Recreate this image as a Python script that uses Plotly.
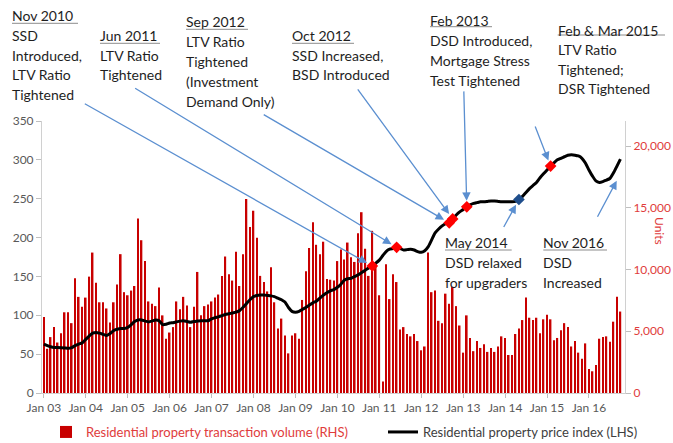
import pandas as pd
import plotly.graph_objects as go

# Monthly observations, Jan 2003 - Oct 2016
months = pd.date_range("2003-01-01", periods=166, freq="MS")

# Residential property transaction volume (units, right axis)
transactions = [
    6160, 3580, 4530, 5340, 4090, 4840, 6540, 6540, 5660, 9300, 7790, 6980,      # 2003
    7730, 9430, 11380, 8930, 7350, 7350, 6850, 5720, 7350, 8800, 11250, 8170,    # 2004
    7920, 8300, 8670, 14140, 12380, 10690, 7420, 7230, 7040, 8550, 6290, 4400,   # 2005
    4900, 5340, 7420, 6790, 7790, 7100, 5340, 6980, 9810, 6290, 7040, 7170,      # 2006
    7420, 7730, 7980, 9490, 11060, 9620, 9110, 11440, 8670, 11250, 15720, 13450, # 2007
    14770, 12570, 9490, 8990, 8230, 10180, 7350, 5220, 6030, 4650, 3210, 4650,   # 2008
    4840, 4400, 7540, 9870, 11750, 13830, 12010, 11250, 12260, 9240, 9180, 9110, # 2009
    10690, 11630, 10810, 12190, 11000, 10620, 12950, 14650, 11690, 9490, 13140, 10430,  # 2010
    7920, 940, 10430, 7610, 9620, 8990, 5150, 5340, 4780, 4590, 4780, 4210,      # 2011
    3460, 3770, 11380, 8170, 8300, 5850, 5660, 8050, 7230, 8610, 7040, 5470,     # 2012
    3270, 6290, 4460, 3390, 4210, 3650, 3960, 3330, 3650, 3330, 3770, 4590,      # 2013
    4460, 3080, 3080, 4780, 5220, 5910, 7730, 6100, 5910, 6100, 4840, 5970,      # 2014
    6350, 5970, 4270, 4460, 5090, 5660, 5340, 3770, 4210, 3270, 2770, 4020,      # 2015
    1950, 1760, 2260, 4400, 4530, 4590, 4150, 5780, 7790, 6600,                  # 2016
]

# Residential property price index (left axis)
price_index = [
    63, 61, 59.5, 58.5, 58.5, 58.3, 58, 57.5, 58.5, 61, 63, 64.5,
    69, 73.5, 77, 78, 77, 75.5, 74, 76.5, 80.5, 82, 83, 83,
    84.5, 88, 92, 94, 94, 92.5, 91.5, 92.5, 94, 93, 88, 88.5,
    90, 90.5, 91.5, 92.5, 93, 92, 91, 92, 92.5, 93, 93, 93,
    95.5, 97, 98, 99.5, 101, 102, 103, 104, 106, 110, 115, 120,
    124, 125.5, 126, 126, 125.5, 125, 124, 122, 120, 117, 110, 105,
    104, 105, 107.5, 110, 113, 116, 118, 122, 126, 129, 131.5, 133,
    136, 140, 145, 147, 147.5, 150, 152, 155, 158, 161, 163.5, 167,
    171, 177, 182, 185, 186, 187.5, 186, 184, 184.5, 185, 184, 182,
    181, 183, 188, 197, 206, 211, 215, 218, 219, 224, 229, 233,
    236, 239.5, 242, 244, 245, 246, 246, 246.5, 247, 247, 246.5, 246,
    246, 246, 246, 246.5, 249, 253, 258, 263, 267, 271, 277, 282,
    287, 292, 296, 300, 302, 304, 306, 306.5, 306, 305, 302, 296,
    287, 279, 273, 271, 272, 274, 276, 283, 292, 301,
]

tick_years = list(range(2003, 2017))
tick_vals = [f"{y}-01-01" for y in tick_years]
tick_text = [f"Jan {y % 100:02d}" for y in tick_years]

left_ticks = [0, 50, 100, 150, 200, 250, 300, 350]
right_ticks = [0, 5000, 10000, 15000, 20000]

# Policy measures marked on the price index
tightening_dates = ["2010-11-01", "2011-06-01", "2012-09-01", "2012-10-01", "2013-02-01", "2015-02-01"]
relaxing_dates = ["2014-05-01"]

W, H = 673, 443
ML, MR, MT, MB = 42, 48, 121, 50
PW, PH = W - ML - MR, H - MT - MB

FONT = "Lato"
TEXT = "#1e1e1e"
GRAY = "#595959"
RED_TXT = "#e03c3c"
BAR_RED = "#c80000"
ARROW = "#5b8fd0"


def px(x):
    return (x - ML) / PW


def py(y):
    return (H - MB - y) / PH


def value_at(date):
    return price_index[months.get_loc(pd.Timestamp(date))]


fig = go.Figure()

fig.add_trace(go.Bar(
    x=months, y=transactions, yaxis="y",
    marker=dict(color=BAR_RED, line=dict(width=0)),
    name=f"<span style='color:{RED_TXT}'>Residential property transaction volume (RHS)</span>",
    legend="legend",
))

fig.add_trace(go.Scatter(
    x=months, y=price_index, yaxis="y2", mode="lines",
    line=dict(color="black", width=3, shape="spline", smoothing=0.6),
    name="Residential property price index (LHS)",
    legend="legend2",
))

fig.add_trace(go.Scatter(
    x=tightening_dates, y=[value_at(d) for d in tightening_dates], yaxis="y2",
    mode="markers", marker=dict(symbol="diamond", size=9, color="#ff0000"),
    showlegend=False,
))
fig.add_trace(go.Scatter(
    x=relaxing_dates, y=[value_at(d) for d in relaxing_dates], yaxis="y2",
    mode="markers", marker=dict(symbol="diamond", size=9, color="#1f4e8c"),
    showlegend=False,
))

annotations = []
shapes = []

# Text blocks: (left x, [(line, centre y), ...], underline y, underline end x)
blocks = [
    (12, [("Nov 2010", 15.5), ("SSD", 35.3), ("Introduced,", 55.5), ("LTV Ratio", 75), ("Tightened", 94.5)], 23.3, 78),
    (100, [("Jun 2011", 35.3), ("LTV Ratio", 55.5), ("Tightened", 75)], 43.3, 160),
    (186, [("Sep 2012", 21.5), ("LTV Ratio", 41.7), ("Tightened", 61.7), ("(Investment", 81.7), ("Demand Only)", 101.7)], 29.3, 248),
    (292, [("Oct 2012", 35.3), ("SSD Increased,", 55.5), ("BSD Introduced", 75)], 43.3, 354),
    (430, [("Feb 2013", 20.5), ("DSD Introduced,", 41), ("Mortgage Stress", 61), ("Test Tightened", 80.5)], 26.7, 492),
    (557.7, [("Feb & Mar 2015", 30), ("LTV Ratio", 49.5), ("Tightened;", 69), ("DSR Tightened", 88.5)], 35, 665),
    (445, [("May 2014", 242.5), ("DSD relaxed", 262.5), ("for upgraders", 282.5)], 250, 511.7),
    (543.3, [("Nov 2016", 242.5), ("DSD", 262.5), ("Increased", 282.5)], 250, 607),
]
for x0, lines, uy, x1 in blocks:
    for txt, yc in lines:
        annotations.append(dict(
            text=txt, xref="paper", yref="paper", x=px(x0 - 2), y=py(yc),
            xanchor="left", yanchor="middle", showarrow=False,
            font=dict(family=FONT, size=14, color=TEXT),
        ))
    shapes.append(dict(type="line", xref="paper", yref="paper",
                       x0=px(x0), x1=px(x1), y0=py(uy), y1=py(uy),
                       line=dict(color="#8c8c8c", width=1)))

# Arrows from the text blocks to the marked months: (date, tail dx, tail dy)
arrows = [
    ("2010-11-01", -289, -163),
    ("2011-06-01", -263, -160),
    ("2012-09-01", -187, -109),
    ("2012-10-01", -96, -131),
    ("2013-02-01", -3, -117),
    ("2014-05-01", -16, 29),
    ("2015-02-01", -16, -41),
]
for d, dx, dy in arrows:
    annotations.append(dict(
        x=d, y=value_at(d), xref="x", yref="y2", ax=dx, ay=dy,
        text="", showarrow=True, arrowhead=2, arrowsize=1.3, arrowwidth=1.3,
        arrowcolor=ARROW, standoff=6,
    ))
# Nov 2016 arrow pointing at the latest readings
annotations.append(dict(
    x=px(616.7), y=py(180.7), xref="paper", yref="paper", ax=-20, ay=37.6,
    text="", showarrow=True, arrowhead=2, arrowsize=1.3, arrowwidth=1.3,
    arrowcolor=ARROW,
))

annotations.append(dict(
    text="Units", xref="paper", yref="paper", x=px(660), y=py(231),
    textangle=90, showarrow=False, xanchor="center", yanchor="middle",
    font=dict(family=FONT, size=12, color=RED_TXT),
))

legend_common = dict(
    orientation="h", yanchor="middle", xanchor="left",
    font=dict(family=FONT, size=13, color="#404040"),
    bgcolor="rgba(0,0,0,0)", itemwidth=30,
)

fig.update_layout(
    width=W, height=H,
    margin=dict(l=ML, r=MR, t=MT, b=MB, pad=0, autoexpand=False),
    paper_bgcolor="white", plot_bgcolor="white",
    bargap=0.5,
    font=dict(family=FONT, size=12, color=GRAY),
    xaxis=dict(
        type="date", range=["2002-12-16", "2016-11-10"],
        tickvals=tick_vals, ticktext=tick_text,
        ticks="outside", ticklen=4, tickcolor="#bfbfbf",
        showline=True, linecolor="#d0d0d0", linewidth=1,
        showgrid=False, zeroline=False,
        tickfont=dict(family=FONT, size=12, color=GRAY),
    ),
    yaxis=dict(
        side="right", range=[0, 22040], tickvals=right_ticks, tickformat=",d",
        ticks="outside", ticklen=5, tickcolor="#bfbfbf",
        showline=True, linecolor="#d0d0d0", linewidth=1,
        showgrid=False, zeroline=False,
        tickfont=dict(family=FONT, size=12, color=RED_TXT),
    ),
    yaxis2=dict(
        overlaying="y", side="left", range=[0, 350], tickvals=left_ticks,
        ticks="outside", ticklen=5, tickcolor="#bfbfbf",
        showline=True, linecolor="#d0d0d0", linewidth=1,
        showgrid=False, zeroline=False,
        tickfont=dict(family=FONT, size=12, color=GRAY),
    ),
    legend=dict(x=px(46), y=py(432), **legend_common),
    legend2=dict(x=px(383), y=py(432), **legend_common),
    annotations=annotations,
    shapes=shapes,
)

fig.write_html("out.html")
